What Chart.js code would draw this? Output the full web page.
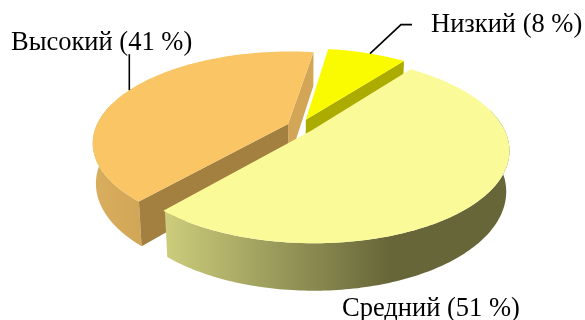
<!DOCTYPE html>
<html lang="ru">
<head>
<meta charset="utf-8">
<title>Уровень</title>
<style>
  html, body { margin: 0; padding: 0; background: #ffffff; }
  canvas { display: block; }
</style>
<script src="https://cdn.jsdelivr.net/npm/chart.js@4/dist/chart.umd.js"></script>
</head>
<body>
<canvas id="pie" width="585" height="320"></canvas>
<script>
// Chart values
const categories = ['Низкий', 'Средний', 'Высокий'];
const shares = [8, 51, 41];

// Slice colours and drawing order (far slices are painted first)
const topColors = ['#FBFB00', '#FBFA99', '#FAC564'];
const paintOrder = [2, 0, 1];

// Tilted-disc projection, in units of the pie radius
const view = { halfWidth: 192, halfHeight: 88, tilt: 0.2, depth: 40, shrink: 0.015 };

function project(el, angle, radius, level) {
  const off = el.options.offset / el.outerRadius;
  const mid = (el.startAngle + el.endAngle) / 2;
  const X = off * Math.cos(mid) + radius * Math.cos(angle);
  const Y = off * Math.sin(mid) + radius * Math.sin(angle);
  const w = 1 - view.tilt * Y + view.shrink * level;
  return {
    x: el.x + view.halfWidth * X / w,
    y: el.y + (view.halfHeight * Y + view.depth * level) / w
  };
}

function rimPoints(el, from, to, level) {
  const steps = Math.max(2, Math.ceil(Math.abs(to - from) / (Math.PI / 180)));
  const pts = [];
  for (let i = 0; i <= steps; i++) {
    pts.push(project(el, from + (to - from) * i / steps, 1, level));
  }
  return pts;
}

function fillPolygon(ctx, pts, fill) {
  ctx.beginPath();
  pts.forEach((p, i) => (i ? ctx.lineTo(p.x, p.y) : ctx.moveTo(p.x, p.y)));
  ctx.closePath();
  ctx.fillStyle = fill;
  ctx.fill();
}

function wallFill(ctx, index) {
  if (index === 1) {
    const g = ctx.createLinearGradient(165, 0, 390, 0);
    g.addColorStop(0, '#CDCD7C');
    g.addColorStop(1, '#666639');
    return g;
  }
  if (index === 2) {
    const g = ctx.createLinearGradient(92, 0, 145, 0);
    g.addColorStop(0, '#D9AE5E');
    g.addColorStop(1, '#D0A555');
    return g;
  }
  return '#ACAC00';
}

const cutFaceColors = {
  0: { end: '#ACAC00' },
  2: { start: '#A37F40', end: '#D2A656' }
};

function drawSlice(ctx, el, index) {
  const s = el.startAngle, e = el.endAngle;

  // Outer wall, only along the part of the rim facing the viewer
  const wall = [];
  for (let a = s; a <= e; a += Math.PI / 180) {
    if (Math.sin(a) > -0.25) wall.push(a);
  }
  if (wall.length > 1) {
    const a0 = wall[0], a1 = wall[wall.length - 1];
    const pts = rimPoints(el, a0, a1, 0).concat(rimPoints(el, a1, a0, 1));
    fillPolygon(ctx, pts, wallFill(ctx, index));
  }

  // Cut faces that turn towards the viewer
  const faces = cutFaceColors[index] || {};
  [['start', s, -Math.cos(s)], ['end', e, Math.cos(e)]].forEach(([name, angle, normalY]) => {
    if (normalY > 0 && faces[name]) {
      fillPolygon(ctx, [
        project(el, angle, 0, 0),
        project(el, angle, 1, 0),
        project(el, angle, 1, 1),
        project(el, angle, 0, 1)
      ], faces[name]);
    }
  });

  // Top surface
  const top = [project(el, s, 0, 0)].concat(rimPoints(el, s, e, 0));
  fillPolygon(ctx, top, el.options.backgroundColor);
}

const pie3d = {
  id: 'pie3d',
  beforeDatasetsDraw(chart) {
    const ctx = chart.ctx;
    const arcs = chart.getDatasetMeta(0).data;
    ctx.save();
    paintOrder.forEach(i => drawSlice(ctx, arcs[i], i));

    // Leader lines from the rims
    ctx.strokeStyle = '#000000';
    ctx.lineWidth = 1.6;
    const lowRim = project(arcs[0], -66 * Math.PI / 180, 1, 0);
    ctx.beginPath();
    ctx.moveTo(lowRim.x, lowRim.y);
    ctx.lineTo(lowRim.x + 31, lowRim.y - 29);
    ctx.lineTo(lowRim.x + 42, lowRim.y - 29);
    ctx.stroke();
    const highRim = project(arcs[2], 205 * Math.PI / 180, 1, 0);
    ctx.beginPath();
    ctx.moveTo(highRim.x, highRim.y);
    ctx.lineTo(highRim.x, highRim.y - 36);
    ctx.stroke();

    // Slice captions
    ctx.fillStyle = '#000000';
    ctx.font = '26.5px "Liberation Serif"';
    ctx.textBaseline = 'alphabetic';
    const caption = i => `${categories[i]} (${shares[i]} %)`;
    ctx.fillText(caption(0), 431, 32);
    ctx.fillText(caption(1), 342, 316);
    ctx.fillText(caption(2), 11, 50);
    ctx.restore();
    return false;
  }
};

new Chart(document.getElementById('pie'), {
  type: 'pie',
  plugins: [pie3d],
  data: {
    labels: categories,
    datasets: [{
      data: shares,
      backgroundColor: topColors,
      borderWidth: 0,
      offset: [10.4, 9.3, 8]
    }]
  },
  options: {
    responsive: false,
    animation: false,
    rotation: 8.5,
    layout: { padding: { left: 14, bottom: 67 } },
    plugins: { legend: { display: false }, tooltip: { enabled: false } }
  }
});
</script>
</body>
</html>
